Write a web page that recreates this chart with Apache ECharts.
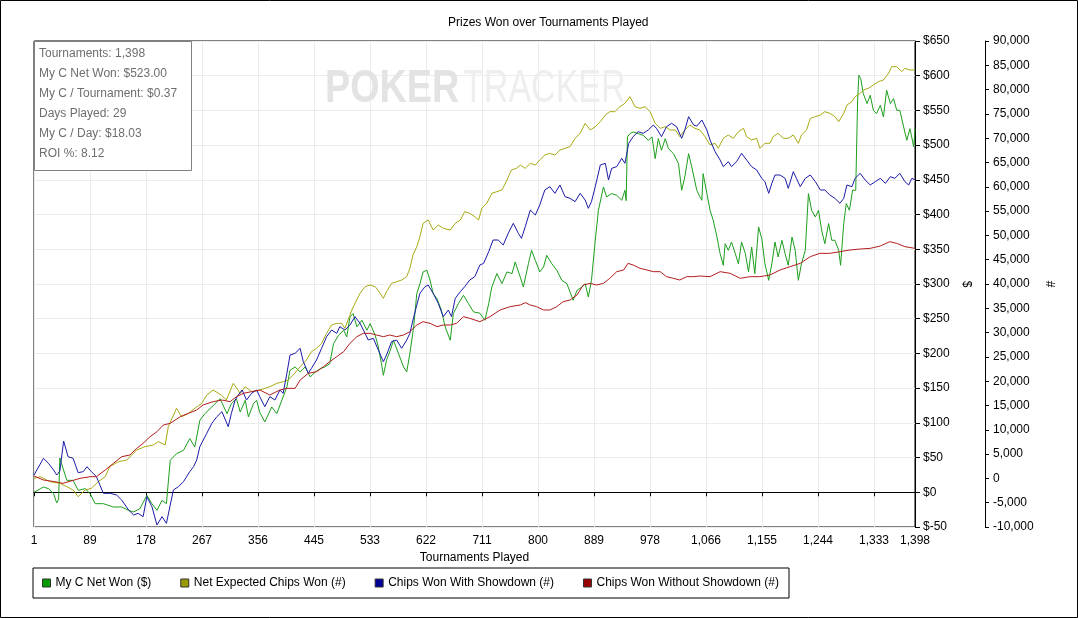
<!DOCTYPE html>
<html>
<head>
<meta charset="utf-8">
<script src="https://cdn.jsdelivr.net/npm/echarts@6/dist/echarts.min.js"></script>
<style>
html,body{margin:0;padding:0;background:#fff;}
#chart{width:1078px;height:618px;}
</style>
</head>
<body>
<div id="chart"></div>
<script>
// ---------------- data ----------------
var seriesNames = ['My C Net Won ($)', 'Net Expected Chips Won (#)', 'Chips Won With Showdown (#)', 'Chips Won Without Showdown (#)'];
var xTickLabels = ['1','89','178','267','356','445','533','622','711','800','889','978','1,066','1,155','1,244','1,333','1,398'];
var statLines = ['Tournaments: 1,398','My C Net Won: $523.00','My C / Tournament: $0.37','Days Played: 29','My C / Day: $18.03','ROI %: 8.12'];

// [tournament, $]
var netWon = [[1,0],[11,5],[16,7.6],[24,5.2],[32,-2],[37,-15.4],[40,-10],[42,49.4],[53,17.2],[63,17.2],[71,2.8],[82,5.2],[90,-2],[98,-16.4],[111,-16.4],[127,-21.2],[140,-21.2],[151,-26],[159,-28.4],[169,-23.6],[180,-4.4],[188,-16.4],[196,-26],[204,-11.6],[211,-16.4],[214,-14],[217,46],[227,55.7],[238,60.4],[248,77.3],[256,65.3],[264,103.7],[272,113.3],[283,122.9],[296,134.9],[307,113.3],[314,127.7],[322,134.9],[328,115.7],[336,132.5],[341,108.5],[349,127.7],[354,132.5],[359,115],[367,101.3],[378,122.9],[386,113.3],[394,132.5],[402,151.7],[407,175.7],[415,180.5],[423,173.3],[431,180.5],[439,166.1],[447,173.3],[455,178.1],[462,180.5],[470,185.3],[476,214.2],[484,226.2],[492,233.4],[497,223.8],[502,252.6],[507,257.4],[513,238.2],[521,247.8],[529,233.4],[534,243],[542,226.2],[547,209.4],[552,185.3],[555,168.5],[560,190.1],[566,204.6],[571,219],[579,199.8],[587,180.5],[592,173.3],[597,199.8],[603,238.2],[608,286.2],[613,300.6],[618,317.4],[624,319.8],[629,305.4],[634,286.2],[640,279],[647,262.2],[653,238.2],[661,219],[666,257.4],[674,271.8],[682,283.8],[690,271.8],[698,259.8],[708,258],[716,247.7],[722,271.7],[727,295.7],[735,315],[743,300.5],[751,317.4],[759,315],[764,331.7],[772,310.1],[777,295.7],[785,329.3],[790,348.5],[796,334.1],[803,317.4],[809,324.5],[814,341.4],[822,329.3],[830,319.8],[838,305.3],[846,300.5],[851,288.5],[856,276.5],[862,290.9],[870,295.7],[875,300.5],[880,281.3],[885,305.3],[891,362.9],[896,406.2],[904,439.8],[909,425.4],[917,430.2],[925,427.8],[933,420.6],[938,435],[940,420],[942,511.8],[946,516.6],[951,519],[959,516.6],[967,514.2],[975,507],[981,511.8],[986,480.6],[991,509.4],[996,492.6],[1002,509.4],[1007,495],[1015,487.8],[1023,473.4],[1028,435],[1033,454.2],[1039,487.8],[1044,468.6],[1052,435],[1057,425.4],[1060,420.6],[1062,459],[1068,430.2],[1073,406.2],[1078,391.8],[1084,367.7],[1089,343.7],[1094,326.9],[1097,358.1],[1102,348.5],[1107,360.5],[1113,343.7],[1118,329.3],[1123,360.5],[1129,343.7],[1134,317.3],[1139,353.3],[1144,314.9],[1150,382.2],[1155,365.3],[1160,329.3],[1166,305.3],[1171,329.3],[1176,360.5],[1181,338.9],[1187,362.9],[1192,343.7],[1197,326.9],[1203,367.7],[1208,348.5],[1213,305.3],[1218,329.3],[1224,348.5],[1229,430.2],[1234,406.2],[1240,396.5],[1245,406.2],[1250,377.3],[1255,358.1],[1261,387],[1266,363],[1271,363],[1277,348.5],[1280,326.9],[1285,387],[1289,415.8],[1294,406.2],[1299,435],[1304,435],[1307,564.6],[1309,600.6],[1312,595.8],[1316,574.2],[1322,559.8],[1327,571.8],[1332,550.2],[1337,545.4],[1343,557.4],[1348,540.6],[1353,579],[1359,559.8],[1364,567],[1369,550.2],[1374,550.2],[1380,526.2],[1385,507],[1390,523.8],[1396,497.4],[1398,523]];

// [tournament, chips]
var netExpected = [[1,0],[11,355],[26,-674],[42,-1017],[53,-1703],[63,-2389],[71,-3761],[82,-2389],[92,-2046],[103,-674],[114,354],[121,2413],[135,3442],[148,3785],[156,4814],[164,5842],[177,6528],[190,6870],[198,7556],[209,6870],[214,10644],[227,14416],[235,12702],[246,13388],[256,14416],[267,15445],[275,17160],[285,18189],[298,17160],[306,16131],[317,19560],[328,17503],[336,18875],[346,17846],[359,18189],[367,18530],[375,18875],[386,19560],[396,19902],[404,20245],[412,21274],[423,22989],[433,24361],[441,26076],[449,26761],[457,27790],[465,29848],[473,31563],[481,31906],[489,31906],[494,30877],[499,32591],[505,34649],[510,36021],[518,38078],[526,39450],[534,39793],[542,39450],[550,38078],[555,37050],[560,38422],[568,40136],[576,40479],[584,40822],[592,41508],[597,43222],[602,45966],[608,47681],[613,49739],[618,52482],[626,53168],[634,51110],[642,52140],[650,51453],[661,51110],[669,52482],[677,53168],[684,54883],[692,54540],[700,53854],[706,53168],[711,55568],[719,56597],[727,58654],[735,58998],[743,59340],[751,61398],[758,63456],[766,63799],[772,64484],[780,63799],[788,64828],[796,64484],[803,65513],[811,66542],[819,66885],[827,66542],[835,67571],[843,67914],[851,68257],[859,69972],[867,71001],[875,73058],[883,71687],[891,72372],[899,73401],[907,74773],[914,75459],[922,75459],[930,76488],[938,77174],[946,78545],[954,76488],[962,76145],[970,76488],[978,75459],[986,73058],[994,72030],[1002,72372],[1010,71687],[1018,71687],[1025,70315],[1033,71687],[1041,72715],[1049,72030],[1057,71687],[1065,70315],[1073,68600],[1081,68943],[1086,67914],[1094,69972],[1102,70657],[1110,69972],[1118,71343],[1126,72029],[1131,70315],[1139,69629],[1147,69972],[1152,67914],[1160,68943],[1168,68943],[1173,70315],[1181,71000],[1189,69972],[1197,69972],[1205,70657],[1213,68943],[1218,70657],[1226,71682],[1232,74087],[1240,74430],[1248,74773],[1255,75459],[1263,75116],[1271,74430],[1277,73401],[1285,75116],[1290,76831],[1298,77516],[1303,78545],[1311,79231],[1316,79917],[1324,80260],[1332,80946],[1340,81632],[1348,81975],[1356,83347],[1361,84719],[1369,84719],[1377,83690],[1382,84375],[1390,84033],[1398,84033]];

var withShowdown = [[1,698],[16,4127],[24,3098],[32,1726],[37,698],[42,1500],[48,7694],[55,4470],[63,4127],[71,1178],[79,1384],[85,2413],[92,1384],[100,354],[111,-3075],[122,-3075],[132,-3418],[140,-4447],[151,-6505],[159,-7533],[166,-7190],[174,-7876],[180,-3761],[188,-5819],[196,-9591],[204,-7876],[211,-9248],[222,-2389],[230,-1703],[238,-674],[248,1384],[254,2413],[259,3785],[264,6528],[275,9272],[283,11330],[291,12702],[299,13730],[309,10644],[314,13388],[320,16131],[325,17160],[331,18189],[338,16131],[346,17503],[354,18189],[359,16817],[367,14758],[375,16816],[383,16130],[391,18187],[396,17501],[402,21617],[407,25389],[415,25732],[423,26761],[428,24018],[436,21617],[441,22646],[449,24361],[457,26761],[465,29162],[473,30534],[481,29848],[486,31220],[494,30534],[502,31563],[510,33278],[518,31906],[526,29848],[531,28477],[539,28819],[547,26419],[555,24018],[560,25389],[568,28133],[576,28477],[584,26761],[592,28477],[597,29848],[602,32591],[608,35678],[613,38078],[621,39450],[626,39793],[634,38078],[642,36021],[650,33278],[658,34649],[663,33278],[669,37050],[677,38422],[684,39450],[692,40822],[700,41508],[708,43908],[714,44250],[722,46651],[729,49052],[737,49052],[745,48023],[753,50424],[761,52481],[769,50424],[774,49395],[780,51795],[788,55225],[796,54196],[803,56254],[811,59340],[819,60029],[827,58654],[835,60369],[843,57969],[851,57626],[859,56940],[867,58654],[875,57283],[880,55568],[885,56940],[891,60029],[899,64484],[907,64828],[912,61398],[917,63799],[925,64142],[933,65856],[938,64828],[944,68943],[951,70315],[959,71343],[967,71001],[975,71687],[983,72715],[988,72030],[996,70315],[1004,72372],[1012,73058],[1020,72372],[1028,69972],[1033,71687],[1039,74430],[1047,72715],[1052,72500],[1060,73744],[1068,71682],[1073,69629],[1081,67228],[1089,65513],[1094,64142],[1102,65170],[1107,64142],[1115,65170],[1123,66885],[1131,65513],[1139,64142],[1147,63456],[1155,61741],[1160,61055],[1166,58654],[1171,60712],[1176,62427],[1184,62427],[1192,61741],[1197,59683],[1205,63113],[1210,61741],[1216,60026],[1224,61741],[1232,62427],[1240,61055],[1248,59340],[1255,59340],[1263,58311],[1271,57626],[1279,56597],[1285,57626],[1290,60369],[1298,60026],[1303,61741],[1311,62769],[1319,61398],[1327,60369],[1335,61055],[1343,61741],[1351,60712],[1359,62084],[1366,61741],[1374,62769],[1382,61055],[1388,60369],[1393,61741],[1398,61398]];

var withoutShowdown = [[1,492],[16,-331],[34,-674],[47,-1017],[74,12],[90,354],[100,354],[114,1726],[127,3098],[140,4470],[153,4814],[164,6186],[174,7214],[185,8586],[196,9614],[206,10986],[217,11330],[233,12702],[246,13388],[259,14073],[269,15102],[285,15788],[299,16131],[312,15788],[322,16817],[333,17503],[346,17846],[359,18189],[375,17158],[391,18187],[402,18530],[415,18530],[423,20245],[436,21617],[449,21959],[460,22989],[470,24018],[481,25046],[492,26076],[502,27790],[513,29162],[523,29848],[534,29848],[544,29505],[555,29162],[565,29505],[576,29162],[587,29505],[597,30190],[608,31563],[618,32248],[629,31906],[640,31220],[650,31563],[661,31563],[671,31906],[682,33278],[692,32935],[708,32248],[724,33276],[740,34647],[756,35334],[772,35677],[780,36157],[788,35677],[798,35334],[809,34647],[819,34647],[830,35334],[840,36363],[851,36706],[862,37735],[872,39792],[883,40135],[893,39792],[904,40135],[914,41164],[925,42536],[936,42879],[943,44250],[951,43908],[962,43222],[973,42879],[983,42536],[994,42536],[1004,41507],[1015,41164],[1025,40821],[1036,41507],[1046,41507],[1057,41644],[1073,41507],[1089,42536],[1105,42193],[1121,41164],[1136,41507],[1152,41507],[1168,41850],[1184,42879],[1200,43564],[1216,44250],[1232,45622],[1247,46308],[1263,46308],[1279,46651],[1295,46994],[1311,47199],[1327,47336],[1343,47816],[1358,48708],[1369,48366],[1382,47680],[1398,47336]];

// ---------------- styling ----------------
var lineColors = ['#1c9f1c', '#a9a914', '#1a1aa8', '#b31d1d'];
var iconColors = ['#009900', '#999900', '#000099', '#990000'];
var FONT = 'Liberation Sans, Arial, sans-serif';
var GRID_COL = '#ececec';

var chart = echarts.init(document.getElementById('chart'), null, {renderer: 'canvas'});

function fmtThousands(v) {
  var s = Math.abs(v).toString().replace(/\B(?=(\d{3})+(?!\d))/g, ',');
  return (v < 0 ? '-' : '') + s;
}

var statTexts = statLines.map(function (t, i) {
  return {
    type: 'text', x: 39, y: 54 + 20 * i, z: 201, silent: true,
    style: { text: t, fill: '#6e6e6e', font: '12px ' + FONT, textVerticalAlign: 'middle' }
  };
});

var seriesData = [netWon, netExpected, withShowdown, withoutShowdown];
var series = seriesData.map(function (d, i) {
  var s = {
    name: seriesNames[i], type: 'line', data: d,
    yAxisIndex: i === 0 ? 0 : 1,
    showSymbol: false, symbol: 'none', smooth: false,
    lineStyle: { width: 1, color: lineColors[i] },
    itemStyle: { color: lineColors[i] },
    z: 3
  };
  if (i === 0) {
    s.markLine = {
      silent: true, symbol: 'none', label: { show: false },
      lineStyle: { color: '#000', width: 1, type: 'solid' },
      data: [{ yAxis: 0 }], z: 1
    };
  }
  return s;
});

var option = {
  animation: false,
  backgroundColor: '#fff',
  title: {
    text: 'Prizes Won over Tournaments Played',
    left: 443, top: 12,
    textStyle: { fontSize: 12, fontWeight: 'normal', color: '#000', fontFamily: FONT }
  },
  legend: {
    left: 33, top: 568,
    padding: [9, 10, 9, 9],
    borderColor: '#000', borderWidth: 1,
    itemWidth: 8, itemHeight: 8, itemGap: 29,
    icon: 'rect',
    textStyle: { fontSize: 12, color: '#000', fontFamily: FONT },
    data: seriesNames.map(function (n, i) {
      return { name: n, itemStyle: { color: iconColors[i], borderColor: '#333', borderWidth: 1 } };
    })
  },
  grid: {
    left: 34, right: 163, top: 41, bottom: 91,
    show: true, borderColor: '#000', borderWidth: 1, backgroundColor: 'transparent'
  },
  xAxis: {
    type: 'value', min: 1, max: 1398, interval: 88.8,
    name: 'Tournaments Played', nameLocation: 'middle', nameGap: 25,
    nameMoveOverlap: false,
    nameTextStyle: { fontSize: 12, color: '#000', fontFamily: FONT },
    axisLine: { show: true, lineStyle: { color: '#000', width: 1 } },
    axisTick: { show: true, length: 4, lineStyle: { color: '#000' } },
    axisLabel: {
      fontSize: 12, color: '#000', fontFamily: FONT, margin: 8,
      showMinLabel: true, showMaxLabel: true,
      formatter: function (v) {
        var idx = Math.round((v - 1) / 88.8);
        if (idx > xTickLabels.length - 1) idx = xTickLabels.length - 1;
        return xTickLabels[idx];
      }
    },
    splitLine: { show: true, lineStyle: { color: GRID_COL, width: 1 } }
  },
  yAxis: [
    {
      type: 'value', position: 'right', offset: 0,
      min: -50, max: 650, interval: 50,
      name: '$', nameLocation: 'middle', nameGap: 45, nameRotate: -90,
      nameMoveOverlap: false,
      nameTextStyle: { fontSize: 12, color: '#000', fontFamily: FONT },
      axisLine: { show: true, lineStyle: { color: '#000', width: 1 } },
      axisTick: { show: true, length: 5, lineStyle: { color: '#000' } },
      axisLabel: {
        fontSize: 12, color: '#000', fontFamily: FONT, margin: 8,
        formatter: function (v) { return v < 0 ? '$-' + Math.abs(v) : '$' + v; }
      },
      splitLine: { show: true, lineStyle: { color: GRID_COL, width: 1 } }
    },
    {
      type: 'value', position: 'right', offset: 70,
      min: -10000, max: 90000, interval: 5000,
      name: '#', nameLocation: 'middle', nameGap: 58, nameRotate: -90,
      nameMoveOverlap: false,
      nameTextStyle: { fontSize: 12, color: '#000', fontFamily: FONT },
      axisLine: { show: true, lineStyle: { color: '#000', width: 1 } },
      axisTick: { show: true, length: 4, lineStyle: { color: '#000' } },
      axisLabel: {
        fontSize: 12, color: '#000', fontFamily: FONT, margin: 8,
        formatter: fmtThousands
      },
      splitLine: { show: false }
    }
  ],
  graphic: {
    elements: [
      { type: 'text', silent: true, z: 1, x: 325, y: 89, scaleX: 0.82,
        style: { text: 'POKER', fill: '#e3e3e3', font: 'bold 46px ' + FONT, textVerticalAlign: 'middle' } },
      { type: 'text', silent: true, z: 1, x: 463, y: 89, scaleX: 0.74,
        style: { text: 'TRACKER', fill: '#eeeeee', font: '46px ' + FONT, textVerticalAlign: 'middle' } },
      { type: 'rect', silent: true, z: 200,
        shape: { x: 34.5, y: 41.5, width: 157, height: 129 },
        style: { fill: '#fff', stroke: '#808080', lineWidth: 1 } }
    ].concat(statTexts).concat([
      { type: 'rect', silent: true, z: 300,
        shape: { x: 0.5, y: 0.5, width: 1077, height: 617 },
        style: { fill: 'none', stroke: '#000', lineWidth: 1 } }
    ])
  },
  series: series
};

chart.setOption(option);
</script>
</body>
</html>
